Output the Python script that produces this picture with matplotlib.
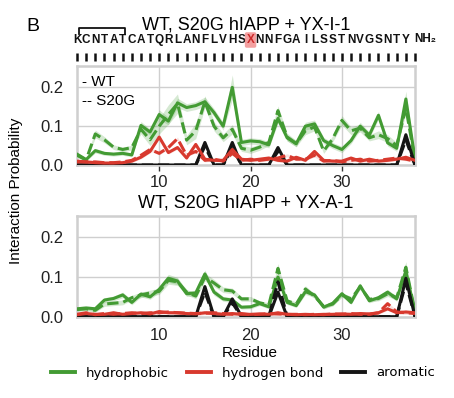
import matplotlib
matplotlib.use("Agg")
import matplotlib.pyplot as plt
import matplotlib.transforms as mtransforms
from matplotlib.lines import Line2D
import numpy as np

plt.rcParams['font.family'] = ['Liberation Sans', 'DejaVu Sans']

residues = list(range(1, 39))
sequence = list("KCNTATCATQRLANFLVHSXNNFGAILSSTNVGSNTY")
xticks = [10, 20, 30]
yticks = [0.0, 0.1, 0.2]
ytick_labels = ["0.0", "0.1", "0.2"]
titles = ["WT, S20G hIAPP + YX-I-1", "WT, S20G hIAPP + YX-A-1"]
legend_labels = ["hydrophobic", "hydrogen bond", "aromatic"]

# ---- top panel (YX-I-1) ----
top_hyd_wt = [0.028, 0.014, 0.037, 0.030, 0.028, 0.030, 0.026, 0.102, 0.085, 0.130,
              0.113, 0.160, 0.148, 0.153, 0.163, 0.135, 0.100, 0.200, 0.058, 0.062,
              0.060, 0.052, 0.120, 0.070, 0.055, 0.100, 0.106, 0.063, 0.050, 0.040,
              0.063, 0.100, 0.077, 0.128, 0.057, 0.043, 0.170, 0.015]
top_hyd_s20g = [0.025, 0.013, 0.080, 0.065, 0.046, 0.040, 0.045, 0.092, 0.065, 0.100,
                0.130, 0.158, 0.064, 0.088, 0.163, 0.100, 0.070, 0.092, 0.043, 0.038,
                0.046, 0.058, 0.140, 0.072, 0.055, 0.088, 0.098, 0.036, 0.068, 0.115,
                0.088, 0.095, 0.070, 0.078, 0.068, 0.050, 0.148, 0.012]
top_hb_wt = [0.008, 0.008, 0.006, 0.005, 0.005, 0.006, 0.010, 0.020, 0.035, 0.072,
             0.032, 0.045, 0.018, 0.053, 0.015, 0.012, 0.012, 0.040, 0.015, 0.012,
             0.015, 0.018, 0.012, 0.010, 0.020, 0.012, 0.035, 0.012, 0.010, 0.010,
             0.018, 0.010, 0.015, 0.010, 0.012, 0.015, 0.020, 0.012]
top_hb_s20g = [0.010, 0.008, 0.008, 0.006, 0.006, 0.008, 0.012, 0.025, 0.040, 0.030,
               0.045, 0.068, 0.025, 0.035, 0.012, 0.015, 0.010, 0.030, 0.012, 0.015,
               0.012, 0.015, 0.018, 0.025, 0.015, 0.015, 0.025, 0.010, 0.012, 0.008,
               0.012, 0.015, 0.010, 0.012, 0.015, 0.018, 0.015, 0.010]
top_aro_wt = [0, 0, 0, 0, 0, 0, 0, 0, 0, 0, 0, 0, 0, 0, 0.058, 0, 0, 0.058, 0, 0,
              0, 0, 0.045, 0, 0, 0, 0, 0, 0, 0, 0, 0, 0, 0, 0, 0, 0.078, 0]
top_aro_s20g = [0, 0, 0, 0, 0, 0, 0, 0, 0, 0, 0, 0, 0, 0, 0.048, 0, 0, 0.045, 0, 0,
                0, 0, 0.035, 0, 0, 0, 0, 0, 0, 0, 0, 0, 0, 0, 0, 0, 0.065, 0]
top_hyd_wt_err = [0.005, 0.004, 0.006, 0.005, 0.005, 0.005, 0.005, 0.010, 0.008, 0.012,
                  0.010, 0.012, 0.010, 0.010, 0.012, 0.010, 0.010, 0.032, 0.008, 0.008,
                  0.008, 0.008, 0.012, 0.008, 0.008, 0.010, 0.010, 0.008, 0.008, 0.008,
                  0.008, 0.010, 0.008, 0.010, 0.008, 0.008, 0.020, 0.005]
top_hyd_s20g_err = [0.005, 0.004, 0.010, 0.008, 0.006, 0.006, 0.006, 0.012, 0.015, 0.020,
                    0.025, 0.025, 0.012, 0.020, 0.015, 0.012, 0.010, 0.012, 0.008, 0.008,
                    0.008, 0.008, 0.012, 0.010, 0.008, 0.010, 0.010, 0.006, 0.008, 0.012,
                    0.010, 0.010, 0.008, 0.010, 0.010, 0.008, 0.015, 0.005]

# ---- bottom panel (YX-A-1) ----
bot_hyd_wt = [0.020, 0.022, 0.020, 0.042, 0.046, 0.055, 0.036, 0.057, 0.050, 0.069,
              0.097, 0.090, 0.058, 0.060, 0.108, 0.062, 0.045, 0.042, 0.024, 0.025,
              0.033, 0.025, 0.100, 0.036, 0.028, 0.063, 0.055, 0.024, 0.034, 0.058,
              0.036, 0.078, 0.040, 0.048, 0.062, 0.045, 0.115, 0.010]
bot_hyd_s20g = [0.018, 0.020, 0.016, 0.032, 0.034, 0.036, 0.048, 0.055, 0.060, 0.064,
                0.092, 0.088, 0.062, 0.052, 0.100, 0.085, 0.068, 0.065, 0.045, 0.045,
                0.035, 0.030, 0.122, 0.040, 0.032, 0.070, 0.052, 0.026, 0.032, 0.055,
                0.045, 0.075, 0.044, 0.046, 0.058, 0.048, 0.125, 0.012]
bot_hb_wt = [0.005, 0.008, 0.006, 0.006, 0.010, 0.006, 0.008, 0.010, 0.007, 0.013,
             0.010, 0.010, 0.008, 0.007, 0.010, 0.008, 0.006, 0.008, 0.006, 0.006,
             0.007, 0.006, 0.010, 0.006, 0.005, 0.006, 0.005, 0.006, 0.006, 0.007,
             0.006, 0.008, 0.007, 0.010, 0.020, 0.010, 0.012, 0.010]
bot_hb_s20g = [0.006, 0.010, 0.005, 0.008, 0.006, 0.008, 0.010, 0.008, 0.010, 0.010,
               0.012, 0.010, 0.009, 0.008, 0.009, 0.010, 0.008, 0.006, 0.008, 0.005,
               0.006, 0.008, 0.007, 0.006, 0.006, 0.005, 0.006, 0.005, 0.007, 0.006,
               0.008, 0.006, 0.006, 0.010, 0.033, 0.012, 0.010, 0.008]
bot_aro_wt = [0, 0, 0, 0, 0, 0, 0, 0, 0, 0, 0, 0, 0, 0, 0.076, 0, 0, 0.045, 0, 0,
              0, 0, 0.062, 0, 0, 0, 0, 0, 0, 0, 0, 0, 0, 0, 0, 0, 0.097, 0]
bot_aro_s20g = [0, 0, 0, 0, 0, 0, 0, 0, 0, 0, 0, 0, 0, 0, 0.062, 0, 0, 0.035, 0, 0,
                0, 0, 0.088, 0, 0, 0, 0, 0, 0, 0, 0, 0, 0, 0, 0, 0, 0.085, 0]
bot_hyd_wt_err = [0.005, 0.005, 0.005, 0.006, 0.006, 0.007, 0.006, 0.007, 0.006, 0.008,
                  0.010, 0.009, 0.007, 0.007, 0.010, 0.008, 0.006, 0.006, 0.005, 0.005,
                  0.005, 0.005, 0.012, 0.005, 0.005, 0.007, 0.006, 0.005, 0.005, 0.006,
                  0.005, 0.007, 0.005, 0.006, 0.007, 0.006, 0.012, 0.004]
bot_hyd_s20g_err = [0.005, 0.005, 0.005, 0.006, 0.006, 0.006, 0.006, 0.007, 0.007, 0.008,
                    0.010, 0.009, 0.007, 0.007, 0.010, 0.009, 0.007, 0.007, 0.006, 0.006,
                    0.005, 0.005, 0.012, 0.005, 0.005, 0.008, 0.006, 0.005, 0.005, 0.006,
                    0.006, 0.007, 0.005, 0.006, 0.007, 0.006, 0.014, 0.004]

GREEN = '#439b33'
RED = '#d8392e'
BLACK = '#151515'
GRID = '#cfcfcf'

fig = plt.figure(figsize=(4.54, 3.98), dpi=100)
ax1 = fig.add_axes([77/454, 1 - 165/398, 338/454, 99/398])
ax2 = fig.add_axes([77/454, 1 - 316.7/398, 338/454, 101/398])


def draw(ax, hyd_wt, hyd_s, hb_wt, hb_s, aro_wt, aro_s, e_wt, e_s):
    x = np.array(residues)
    lw = 2.2
    for y, e in ((hyd_wt, e_wt), (hyd_s, e_s)):
        y = np.array(y); e = np.array(e)
        ax.fill_between(x, y - e, y + e, color=GREEN, alpha=0.22, lw=0, zorder=2)
    for y in (hb_wt, hb_s):
        y = np.array(y)
        ax.fill_between(x, y - 0.004, y + 0.004, color=RED, alpha=0.15, lw=0, zorder=2)
    ax.plot(x, hyd_wt, color=GREEN, lw=lw, ls='-', zorder=3)
    ax.plot(x, hyd_s, color=GREEN, lw=lw, ls='--', zorder=3)
    ax.plot(x, aro_wt, color=BLACK, lw=lw, ls='-', zorder=4)
    ax.plot(x, aro_s, color=BLACK, lw=lw, ls='--', zorder=4)
    ax.plot(x, hb_wt, color=RED, lw=lw, ls='-', zorder=5)
    ax.plot(x, hb_s, color=RED, lw=lw, ls='--', zorder=5)
    ax.set_xlim(1, 38)
    ax.set_ylim(0, 0.255)
    ax.set_xticks(xticks)
    ax.set_xticklabels([str(t) for t in xticks])
    ax.set_yticks(yticks)
    ax.set_yticklabels(ytick_labels)
    ax.grid(True, color=GRID, lw=1.0, zorder=0)
    ax.set_axisbelow(True)
    for s in ax.spines.values():
        s.set_color(GRID)
        s.set_linewidth(1.8)
    ax.tick_params(axis='y', length=0, pad=10, labelsize=12, colors='#222222')
    ax.tick_params(axis='x', labelsize=12, colors='#222222')


draw(ax1, top_hyd_wt, top_hyd_s20g, top_hb_wt, top_hb_s20g, top_aro_wt, top_aro_s20g,
     top_hyd_wt_err, top_hyd_s20g_err)
draw(ax2, bot_hyd_wt, bot_hyd_s20g, bot_hb_wt, bot_hb_s20g, bot_aro_wt, bot_aro_s20g,
     bot_hyd_wt_err, bot_hyd_s20g_err)
ax1.tick_params(axis='x', length=4, width=1.0, color='#333333', pad=3)
ax2.tick_params(axis='x', length=0, pad=8)

# WT / S20G key
ax1.text(0.015, 0.80, "- WT", transform=ax1.transAxes, fontsize=11, va='baseline')
ax1.text(0.015, 0.606, "-- S20G", transform=ax1.transAxes, fontsize=11, va='baseline')

# titles and labels
fig.text(246/454, 1 - 30/398, titles[0], ha='center', va='baseline', fontsize=13)
fig.text(246/454, 1 - 207/398, titles[1], ha='center', va='baseline', fontsize=13)
fig.text(26/454, 1 - 31/398, "B", ha='left', va='baseline', fontsize=14)
fig.text(16/454, 1 - 191/398, "Interaction Probability", rotation=90,
         ha='center', va='center', fontsize=11)
fig.text(250/454, 1 - 353/398, "Residue", ha='center', va='center', fontsize=11)

# sequence header
trans = mtransforms.blended_transform_factory(ax1.transData, fig.transFigure)
seq_y = 1 - 40/398
for r, aa in zip(residues, sequence):
    if aa == 'X':
        ax1.text(r, seq_y, aa, transform=trans, ha='center', va='center',
                 fontsize=8.5, fontweight='bold', color='#cc2a2a',
                 bbox=dict(boxstyle='round,pad=0.15', fc='#f29090', ec='none', alpha=0.85))
    else:
        ax1.text(r, seq_y, aa, transform=trans, ha='center', va='center',
                 fontsize=8.5, fontweight='bold', color='#111111')
ax1.text(residues[-1] - 0.05, 1 - 39/398, "NH₂", transform=trans, ha='left', va='center',
         fontsize=8.5, fontweight='bold', color='#111111',
         family=['Liberation Sans', 'DejaVu Sans'])
ax1.plot(residues, [1 - 57/398] * len(residues), transform=trans, ls='none',
         marker='|', ms=6, mew=1.8, color='#111111', clip_on=False)
# disulfide bracket
bx = [1.22, 1.22, 6.25, 6.25]
by = [1 - 33.5/398, 1 - 27.5/398, 1 - 27.5/398, 1 - 33.5/398]
ax1.plot(bx, by, transform=trans, color='#111111', lw=1.3, clip_on=False)

# legend
handles = [Line2D([], [], color=GREEN, lw=2.8),
           Line2D([], [], color=RED, lw=2.8),
           Line2D([], [], color=BLACK, lw=2.8)]
fig.legend(handles, legend_labels, loc='center', bbox_to_anchor=(243/454, 1 - 373/398),
           ncol=3, frameon=False, prop={'family': 'DejaVu Sans', 'size': 9.5},
           handlelength=1.8, handletextpad=0.83, columnspacing=1.37)

fig.savefig("out.png", dpi=100)
